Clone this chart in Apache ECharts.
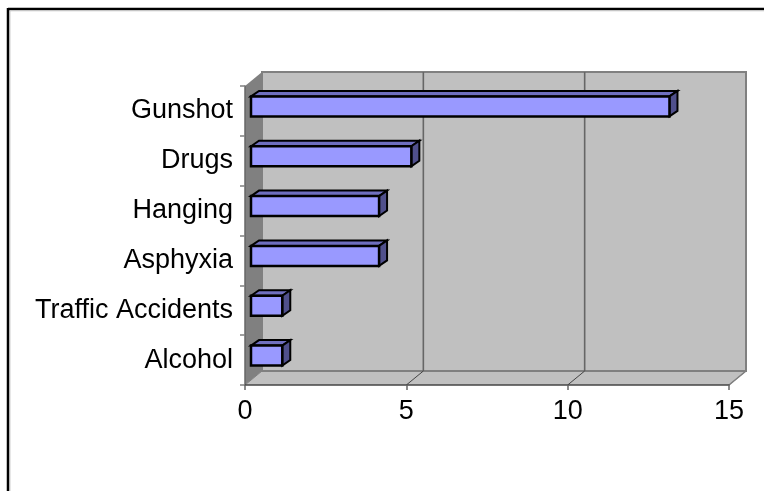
<!DOCTYPE html>
<html><head><meta charset="utf-8">
<style>html,body{margin:0;padding:0;background:#fff}#c{width:764px;height:491px}</style>
<script src="https://cdn.jsdelivr.net/npm/echarts@6/dist/echarts.min.js"></script>
</head><body><div id="c"></div>
<script>
const categories = ["Alcohol","Traffic Accidents","Asphyxia","Hanging","Drugs","Gunshot"];
const values = [1,1,4,4,5,13];
const xTicks = [0,5,10,15];

const chart = echarts.init(document.getElementById('c'),null,{renderer:'canvas'});
const DX=17, DY=-14;

function poly(points,fill,stroke,lw){
  return {type:'polygon',shape:{points},style:{fill:fill,stroke:stroke||null,lineWidth:lw||0,lineJoin:'miter'}};
}
function line(x1,y1,x2,y2,stroke,lw){
  return {type:'line',shape:{x1,y1,x2,y2},style:{stroke,lineWidth:lw}};
}
function renderWalls(params,api){
  const cs=params.coordSys;
  const x0=cs.x,x1=cs.x+cs.width,yT=cs.y,yB=cs.y+cs.height;
  const ch=[];
  ch.push(poly([[x0+DX,yT+DY],[x1+DX,yT+DY],[x1+DX,yB+DY],[x0+DX,yB+DY]],'#c0c0c0','#808080',2));
  ch.push(poly([[x0,yB],[x1,yB],[x1+DX,yB+DY],[x0+DX,yB+DY]],'#c0c0c0'));
  ch.push(poly([[x0,yT],[x0+DX,yT+DY],[x0+DX,yB+DY],[x0,yB]],'#808080'));
  ch.push(line(x0+DX,yB+DY,x1+DX,yB+DY,'#808080',2));
  xTicks.forEach(v=>{
    const p=api.coord([v,0])[0];
    if(v>0&&v<15) ch.push(line(p+DX,yT+DY,p+DX,yB+DY,'#666666',1.6));
    ch.push(line(p,yB,p+DX,yB+DY,v>0&&v<15?'#444444':'#808080',1));
  });
  ch.push(line(x1,yB,x1+DX,yB+DY,'#808080',1.5));
  return {type:'group',children:ch};
}
function renderBar(params,api){
  const val=api.value(0), idx=api.value(1);
  const zero=api.coord([0,idx]), end=api.coord([val,idx]);
  const ox=6, oy=-4.5, h=20, dx=8, dy=-5.5;
  const l=zero[0]+ox, r=end[0]+ox-1, t=zero[1]+oy-h/2, b=t+h;
  return {type:'group',children:[
    poly([[l,t],[l+dx,t+dy],[r+dx,t+dy],[r,t]],'#6f6fbf','#000',2),
    poly([[r,t],[r+dx,t+dy],[r+dx,b+dy],[r,b]],'#50508c','#000',2),
    poly([[l,t],[r,t],[r,b],[l,b]],'#9999ff','#000',2.5)
  ]};
}
chart.setOption({
  animation:false,
  textStyle:{fontFamily:'"Liberation Sans",Arial,sans-serif'},
  grid:{left:245,right:35,top:86,bottom:106,containLabel:false},
  xAxis:{type:'value',min:0,max:15,interval:5,
    axisLine:{show:true,lineStyle:{color:'#444444',width:1.5}},
    axisTick:{show:true,length:5,lineStyle:{color:'#666666',width:1.5}},
    axisLabel:{color:'#000',fontSize:27,margin:13},
    splitLine:{show:false},z:5},
  yAxis:{type:'category',data:categories,
    axisLine:{show:true,lineStyle:{color:'#666666',width:1.5}},
    axisTick:{show:true,length:5,alignWithLabel:false,lineStyle:{color:'#808080',width:1.5}},
    axisLabel:{color:'#000',fontSize:27,margin:12},z:5},
  graphic:[
    {type:'line',silent:true,shape:{x1:8,y1:9,x2:764,y2:9},style:{stroke:'#000',lineWidth:2.5}},
    {type:'line',silent:true,shape:{x1:8,y1:8,x2:8,y2:491},style:{stroke:'#000',lineWidth:2.5}},
    {type:'line',silent:true,shape:{x1:10,y1:10.8,x2:764,y2:10.8},style:{stroke:'#c8c8c8',lineWidth:1}},
    {type:'line',silent:true,shape:{x1:9.8,y1:11,x2:9.8,y2:491},style:{stroke:'#b0b0b0',lineWidth:1}}
  ],
  series:[
    {type:'custom',name:'walls',data:[[0]],renderItem:renderWalls,clip:false,z:1,silent:true,
     encode:{x:0}},
    {type:'custom',name:'bars',data:values.map((v,i)=>[v,i]),renderItem:renderBar,clip:false,z:3,
     encode:{x:0,y:1}}
  ]
});
</script></body></html>
